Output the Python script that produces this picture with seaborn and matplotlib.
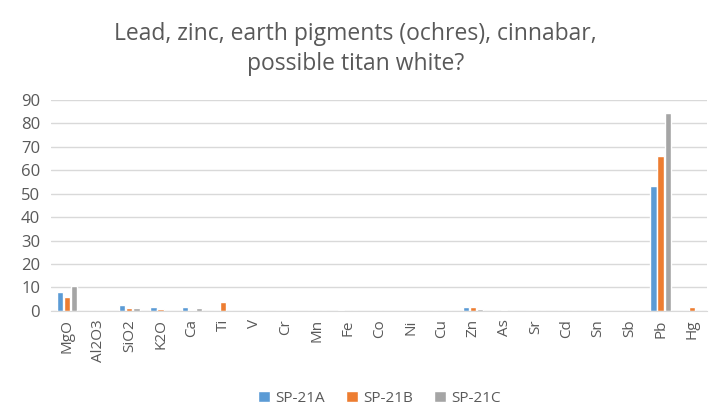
import matplotlib.pyplot as plt
import seaborn as sns
import pandas as pd

# Values
elements = ['MgO', 'Al2O3', 'SiO2', 'K2O', 'Ca', 'Ti', 'V', 'Cr', 'Mn', 'Fe', 'Co',
            'Ni', 'Cu', 'Zn', 'As', 'Sr', 'Cd', 'Sn', 'Sb', 'Pb', 'Hg']
sp21a = [8.0, 0, 2.3, 1.5, 1.5, 0, 0, 0, 0, 0.5, 0, 0, 0, 1.5, 0, 0, 0, 0, 0, 53.3, 0]
sp21b = [6.0, 0, 1.2, 0.7, 0.5, 3.6, 0, 0, 0, 0, 0, 0, 0, 1.5, 0.5, 0, 0, 0, 0, 66.1, 1.5]
sp21c = [10.5, 0, 1.2, 0, 1.0, 0, 0, 0, 0, 0, 0, 0, 0, 0.8, 0, 0, 0, 0, 0, 84.4, 0]
samples = ['SP-21A', 'SP-21B', 'SP-21C']
colors = ['#5B9BD5', '#ED7D31', '#A5A5A5']

df = pd.DataFrame({'Element': elements, 'SP-21A': sp21a, 'SP-21B': sp21b, 'SP-21C': sp21c})
long_df = df.melt(id_vars='Element', var_name='Sample', value_name='Value')

sns.set_style('white')
plt.rcParams['font.family'] = ['Open Sans', 'DejaVu Sans']

fig = plt.figure(figsize=(7.11, 4.09), dpi=100)
ax = fig.add_axes([0.072, 0.240, 0.923, 0.5155])

sns.barplot(data=long_df, x='Element', y='Value', hue='Sample', hue_order=samples,
            palette=colors, width=0.68, gap=0.12, ax=ax, saturation=1, legend=True)

ax.set_ylim(0, 90)
ax.set_yticks(range(0, 91, 10))
ax.set_xlim(-0.5, len(elements) - 0.5)
ax.yaxis.grid(True, color='#D9D9D9', linewidth=1)
ax.set_axisbelow(True)
for s in ['top', 'right', 'left']:
    ax.spines[s].set_visible(False)
ax.spines['bottom'].set_color('#D9D9D9')
ax.tick_params(axis='both', length=0, colors='#595959', labelsize=11)
ax.tick_params(axis='y', labelsize=12, pad=8)
ax.tick_params(axis='x', rotation=90, pad=6)
ax.set_xlabel('')
ax.set_ylabel('')

fig.suptitle('Lead, zinc, earth pigments (ochres), cinnabar,\npossible titan white?',
             fontsize=16.5, color='#595959', y=0.945, linespacing=1.3)

ax.legend(loc='center', bbox_to_anchor=(0.5, -0.415), ncol=3, frameon=False,
          fontsize=11, labelcolor='#595959', handlelength=0.8, handleheight=0.8,
          handletextpad=0.3, columnspacing=1.4)

fig.savefig('out.png', dpi=100)
